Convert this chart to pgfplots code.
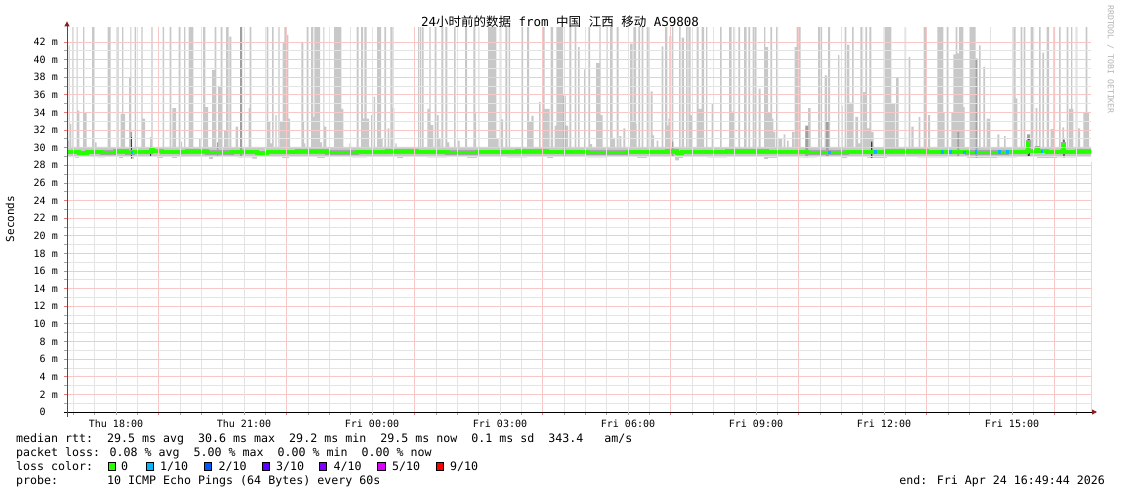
\documentclass[border=0pt]{standalone}
\usepackage{fontspec}
\setmainfont{DejaVu Sans Mono}[WordSpace={1,0,0}]
\newfontfamily\cjk{Noto Sans CJK SC}
\usepackage{pgfplots}
\pgfplotsset{compat=1.18}
\usetikzlibrary{arrows.meta}
\definecolor{smoke}{RGB}{200,200,200}
\definecolor{midsmoke}{RGB}{160,160,160}
\definecolor{darksmoke}{RGB}{60,60,60}
\definecolor{halo}{RGB}{165,165,165}
\definecolor{gridgray}{RGB}{228,228,228}
\definecolor{gridred}{RGB}{248,200,200}
\definecolor{tickred}{RGB}{240,120,120}
\definecolor{arrowred}{RGB}{140,30,30}
\definecolor{loss0}{HTML}{26FF00}
\definecolor{loss1}{HTML}{00B8FF}
\definecolor{loss2}{HTML}{0059FF}
\definecolor{loss3}{HTML}{5E00FF}
\definecolor{loss4}{HTML}{7E00FF}
\definecolor{loss5}{HTML}{DD00FF}
\definecolor{loss9}{HTML}{FF0000}
\newcommand\tickfont{\fontsize{10bp}{12bp}\selectfont}
\newcommand\legfont{\fontsize{11.63bp}{14bp}\selectfont}
\begin{document}
\begin{tikzpicture}
\path[use as bounding box] (0,0) rectangle (1121bp,-494bp);
\begin{axis}[
  at={(67bp,-412bp)}, anchor=south west,
  scale only axis, width=1024bp, height=384.6bp,
  xmin=0, xmax=1024, ymin=0, ymax=43.65,
  axis on top,
  axis lines=left,
  x axis line style={black, line width=0.9bp, -{Triangle[length=5bp,width=5bp,color=arrowred]}, shorten >=-6bp, shorten <=-3bp},
  y axis line style={black!70, line width=0.9bp, -{Triangle[length=5bp,width=5bp,color=arrowred]}, shorten >=-6bp, shorten <=-5bp},
  grid=both,
  grid style={color=gridgray, solid, line width=0.8bp},
  major grid style={color=gridred, solid, line width=0.8bp},
  minor grid style={color=gridgray, solid, line width=0.8bp},
  xtick={91.667,219.667,347.667,475.667,603.667,731.667,859.667,987.667},
  xticklabels={},
  minor xtick={6.333,27.667,70.333,113,134.333,155.667,198.333,241,262.333,283.667,326.333,369,390.333,411.667,454.333,497,518.333,539.667,582.333,625,646.333,667.667,710.333,753,774.333,795.667,838.333,881,902.333,923.667,966.333,1009},
  extra x ticks={49,177,305,433,561,689,817,945},
  extra x tick labels={Thu 18:00,Thu 21:00,Fri 00:00,Fri 03:00,Fri 06:00,Fri 09:00,Fri 12:00,Fri 15:00},
  extra x tick style={grid=major, major grid style={color=gridgray, solid, line width=0.8bp}, major tick style={color=black!35}},
  ytick={0,2,...,42},
  minor y tick num=1,
  yticklabels={{\phantom{0}0\ \phantom{m}},{\phantom{0}2 m},{\phantom{0}4 m},{\phantom{0}6 m},{\phantom{0}8 m},{10 m},{12 m},{14 m},{16 m},{18 m},{20 m},{22 m},{24 m},{26 m},{28 m},{30 m},{32 m},{34 m},{36 m},{38 m},{40 m},{42 m}},
  tick align=outside, major tick length=3bp, minor tick length=3bp,
  major tick style={color=tickred, line width=0.8bp},
  minor tick style={color=black!35, line width=0.8bp},
  xticklabel style={font=\tickfont, inner sep=0pt, anchor=north},
  xticklabel shift=5bp,
  yticklabel style={font=\tickfont, inner sep=0pt, anchor=east},
  yticklabel shift=6bp,
]
% light grey smoke (upper envelope of the pings)
\addplot[const plot, fill=smoke, draw=none] coordinates {
(0,30.1)
(0.3,30.8)(1.3,30.1)(1.7,41.6)(2.7,30.1)(3.0,32.7)(4.3,30.1)(5.3,45)(6.7,30.1)
(9.7,45)(10.7,34.2)(12.3,30.1)(16.0,45)(17.3,34.0)(19.7,30.1)(25.0,45)(27.7,30.6)(29.7,30.1)
(40.7,45)(43.7,30.1)(50.3,45)(51.7,30.1)(53.7,33.8)(55.0,45)(56.3,33.8)(58.0,30.1)
(62.0,38.0)(63.3,45)(64.3,30.1)(67.7,45)(69.0,30.1)(74.3,45)(75.7,33.3)(78.0,30.1)
(83.0,31.2)(84.3,45)(85.7,30.1)(95.7,45)(97.0,30.1)(102.7,45)(104.3,30.1)(105.3,34.5)(109.0,30.1)
(111.7,45)(113.0,30.7)(115.0,30.1)(117.0,45)(118.3,30.1)(121.7,45)(126.3,30.1)(132.0,31.0)(133.7,30.1)
(136.0,45)(138.3,34.6)(141.0,30.1)(145.0,38.8)(147.7,45)(149.3,30.1)(151.0,37.0)(153.7,45)(155.0,30.1)
(157.0,32.0)(159.0,45)(161.7,30.1)(162.3,42.6)(164.3,30.1)(168.7,32.4)(171.0,30.1)
(173.0,45)(175.0,30.1)(181.7,34.5)(182.7,45)(184.3,30.1)
(199.7,45)(201.3,33.0)(203.3,30.5)(205.0,45)(206.7,30.1)(208.3,33.7)(209.7,30.1)(211.3,45)(212.7,30.1)
(213.0,33.0)(215.7,42.0)(217.3,45)(219.7,42.8)(221.3,33.3)(223.0,30.1)
(234.3,42.0)(236.3,32.9)(237.0,30.5)(238.3,30.1)(239.7,45)(241.0,30.1)
(244.0,45)(246.3,33.5)(247.3,45)(253.0,30.6)(255.0,30.1)(256.3,45)(257.3,32.4)(259.3,30.1)
(267.0,45)(274.3,34.4)(276.3,30.1)(282.3,30.5)(284.0,30.1)(289.7,45)(291.7,30.1)
(294.0,45)(296.0,33.3)(297.3,45)(299.7,33.3)(302.0,30.1)(304.0,33.7)(305.7,30.1)(306.7,35.8)(308.0,30.1)
(310.0,45)(314.0,31.0)(315.7,30.1)(317.3,45)(319.0,30.1)(320.7,32.2)(322.3,30.1)
(323.3,45)(325.7,34.5)(327.3,30.1)(328.3,30.5)(329.7,30.1)
(351.0,45)(352.3,30.1)(353.0,45)(354.3,30.1)(355.0,45)(356.7,30.1)
(360.3,34.4)(362.3,45)(363.7,32.6)(366.3,30.1)(367.7,45)(369.7,33.7)(371.7,31.0)(373.7,30.1)
(374.3,45)(376.3,30.1)(378.3,45)(380.3,30.6)(382.3,30.1)(387.0,45)(388.7,30.1)(391.0,30.8)(392.7,30.1)
(398.0,45)(400.0,30.1)
(406.3,45)(408.3,33.9)(409.0,30.1)(411.0,45)(412.3,30.1)(421.0,45)(429.3,31.0)(431.7,30.1)
(432.7,45)(434.3,33.2)(436.0,30.1)(438.3,45)(440.3,30.1)(441.7,45)(443.0,30.1)(454.3,45)(456.0,30.1)
(460.0,45)(462.0,32.9)(464.3,33.6)(466.7,30.1)(472.0,35.2)(473.7,30.1)
(475.3,45)(477.7,34.4)(482.7,30.1)(483.7,45)(486.0,30.1)
(487.7,32.5)(489.3,45)(496.0,35.9)(498.3,32.5)(501.0,30.1)(502.3,45)(504.3,30.1)(507.7,45)(509.3,30.1)
(511.0,41.4)(512.7,30.1)
(517.0,38.9)(518.3,30.1)(521.3,45)(523.0,30.4)(525.0,30.1)
(529.0,39.6)(532.3,45)(533.7,33.7)(535.7,30.1)(539.0,45)(540.7,30.1)(543.0,45)(545.7,31.1)(548.0,30.1)
(549.7,45)(551.7,30.1)(552.3,31.3)(554.3,30.1)(556.3,32.2)(558.3,30.1)
(563.0,41.8)(565.7,32.9)(566.3,45)(569.0,32.7)(569.7,30.1)(571.3,45)(573.0,30.1)(574.7,45)(576.3,30.1)
(579.7,45)(581.7,30.1)(583.7,36.4)(585.7,31.4)(587.0,30.1)(589.7,30.8)(591.3,30.1)(594.7,41.5)(596.3,30.1)
(598.0,45)(600.3,32.5)(601.3,33.3)(602.3,42.7)(604.3,30.1)(605.0,45)(606.3,30.1)
(612.0,45)(613.7,30.1)(614.7,42.5)(617.0,30.1)(619.0,45)(620.7,30.1)(621.3,45)(623.7,33.7)(625.0,30.1)
(629.7,45)(631.7,34.4)(634.7,45)(637.0,30.1)(639.0,45)(640.3,30.1)(644.7,35.0)(646.3,30.1)
(653.0,45)(654.7,30.1)(662.0,45)(664.7,34.1)(666.3,45)(668.0,30.1)(671.3,45)(673.0,30.1)
(677.0,45)(679.7,30.1)(681.3,45)(683.0,30.1)(685.7,45)(687.0,30.1)
(687.7,45)(689.0,30.1)(691.7,36.7)(693.7,30.1)
(697.0,45)(698.3,41.4)(701.0,34.0)(703.3,45)(705.0,33.3)(706.3,31.8)(708.3,30.1)(709.0,45)(711.0,30.1)
(711.7,31.0)(715.0,30.1)(716.7,31.5)(718.3,30.1)(720.0,30.8)(721.7,30.1)(725.0,31.8)(727.0,30.1)
(727.7,41.4)(729.7,45)(733.7,30.1)(738.3,32.3)(741.0,34.5)(743.7,30.1)(751.0,45)(755.0,30.1)
(757.7,38.2)(760.0,32.3)(761.0,45)(763.0,30.1)(771.0,40.5)(772.3,30.1)(774.3,34.8)(775.7,30.1)
(777.7,45)(779.3,30.1)(780.0,41.7)(782.3,35.1)(785.0,45)(786.7,30.1)
(788.3,33.5)(791.0,30.5)(793.3,45)(796.0,36.3)(798.3,45)(800.0,32.2)(802.3,45)(804.3,31.8)(806.7,30.1)
(816.7,45)(824.3,35.0)(828.3,30.1)(829.0,37.9)(831.7,30.1)(837.7,45)(839.0,30.1)
(841.7,40.3)(843.3,30.1)(844.3,32.4)(846.7,30.1)(851.7,33.5)(853.3,30.1)(856.7,45)(859.0,30.1)
(861.0,33.7)(863.0,30.1)(870.3,45)(876.3,34.0)(877.7,30.1)(879.7,45)(881.0,30.1)
(884.3,34.0)(886.3,40.6)(888.7,45)(890.3,40.7)(892.0,45)(896.3,34.6)(897.7,30.1)
(902.0,45)(908.7,40.1)(910.3,30.1)(912.0,41.6)(913.7,30.1)(916.3,39.2)(918.0,30.1)(919.7,33.3)(923.0,30.1)
(930.3,31.5)(932.3,30.1)(937.0,31.3)(938.7,30.1)(946.3,45)(948.7,35.6)(950.3,30.1)
(953.7,45)(955.3,30.1)(956.7,45)(958.3,30.1)(963.7,45)(967.0,30.1)(968.7,34.5)(970.3,30.1)
(972.0,45)(973.7,30.1)(975.3,40.8)(977.0,30.1)(979.7,45)(982.0,30.1)(983.7,32.1)(986.3,45)(988.0,30.1)
(992.0,45)(993.7,30.1)(995.3,32.3)(997.0,30.1)(999.7,45)(1001.3,30.1)
(1002.0,34.4)(1004.0,45)(1005.3,34.4)(1006.3,30.1)(1008.7,45)(1010.3,30.1)(1011.0,32.2)(1013.0,30.1)
(1016.3,34.0)(1018.7,45)(1020.3,34.0)(1022.0,30.1)(1024,30.1)
} \closedcycle;
% medium grey smoke
\addplot[const plot, fill=midsmoke, draw=none] coordinates {
(0,28.4)(63.7,31.8)(65.0,28.4)(150.0,30.6)(151.0,28.4)(173.0,45)(175.0,28.4)
(496.7,35.9)(498.3,28.4)(605.0,30.7)(606.3,28.4)(738.3,32.5)(741.0,28.4)(759.0,33.0)(761.5,28.4)
(890.3,31.8)(892.0,28.4)(908.7,40.1)(910.3,28.4)(960.0,31.5)(963.0,28.4)(1024,28.4)
} \closedcycle;
% dark grey smoke
\addplot[const plot, fill=darksmoke, draw=none] coordinates {
(0,28.4)(64.0,31.2)(64.8,28.4)(83.0,30.1)(84.0,28.4)(804.0,30.7)(805.3,28.4)
(961.0,31.0)(962.5,28.4)(996.3,30.9)(997.7,28.4)(1024,28.4)
} \closedcycle;
% lower envelope of the pings
\addplot[const plot, fill=white, draw=none] coordinates {
(0,29.0)(8,28.85)(12,29.0)(30,28.9)(38,29.05)(52,28.8)(56,29.0)(64,28.75)(67,29.0)(90,28.85)(96,29.0)
(105,28.8)(110,29.0)(142,28.7)(146,29.0)(170,28.9)(185,28.75)(190,29.0)(215,28.8)(222,29.0)(250,28.85)
(258,29.0)(285,28.9)(300,29.0)(330,28.8)(336,29.0)(360,28.9)(380,29.0)(400,28.85)(410,29.0)(440,28.9)
(460,29.0)(480,28.8)(486,29.0)(520,28.9)(540,29.0)(570,28.85)(580,29.0)(608,28.55)(612,28.8)(616,29.0)
(640,28.9)(660,29.0)(697,28.7)(701,28.85)(710,29.0)(730,28.9)(750,29.0)(775,28.8)(780,29.0)(800,28.85)
(820,29.0)(850,28.9)(880,29.0)(900,28.85)(930,28.9)(950,29.0)(970,28.8)(990,28.9)(1010,29.0)(1024,29.0)
} \closedcycle;
% median rtt
\addplot[const plot, draw=halo, line width=4.3bp] coordinates {
(0,29.5)(12,29.4)(20,29.5)(35,29.45)(48,29.55)(60,29.45)(66,29.5)(84,29.8)(86,29.6)(95,29.5)(120,29.55)
(140,29.45)(165,29.5)(190,29.4)(200,29.5)(230,29.55)(260,29.45)(290,29.5)(320,29.55)(350,29.5)
(380,29.45)(410,29.5)(450,29.55)(480,29.5)(520,29.45)(560,29.5)(600,29.55)(610,29.4)(615,29.5)
(660,29.55)(700,29.5)(740,29.45)(780,29.5)(820,29.55)(860,29.5)(900,29.45)(940,29.5)(960,29.6)
(961,30.6)(961.8,29.6)(970,29.9)(971.3,29.6)(980,29.5)(995,29.6)(996.5,30.4)(997.3,29.5)(1010,29.55)(1024,29.5)
};
\addplot[const plot, draw=loss0, line width=3.2bp] coordinates {
(0,29.5)(12,29.4)(20,29.5)(35,29.45)(48,29.55)(60,29.45)(66,29.5)(84,29.8)(86,29.6)(95,29.5)(120,29.55)
(140,29.45)(165,29.5)(190,29.4)(200,29.5)(230,29.55)(260,29.45)(290,29.5)(320,29.55)(350,29.5)
(380,29.45)(410,29.5)(450,29.55)(480,29.5)(520,29.45)(560,29.5)(600,29.55)(610,29.4)(615,29.5)
(660,29.55)(700,29.5)(740,29.45)(780,29.5)(820,29.55)(860,29.5)(900,29.45)(940,29.5)(960,29.6)
(961,30.6)(961.8,29.6)(970,29.9)(971.3,29.6)(980,29.5)(995,29.6)(996.5,30.4)(997.3,29.5)(1010,29.55)(1024,29.5)
};
% median with 1/10 loss
\addplot[draw=loss1, line width=3.2bp, unbounded coords=jump] coordinates {
(63.7,29.45)(65.7,29.45)(65.8,nan)(761.0,29.45)(764.0,29.45)(764.1,nan)(806.5,29.5)(809.5,29.5)(809.6,nan)
(874.0,29.5)(877.0,29.5)(877.1,nan)(882.0,29.5)(884.5,29.5)(884.6,nan)(896.0,29.45)(899.0,29.45)(899.1,nan)
(907.5,29.5)(910.0,29.5)(910.1,nan)(931.0,29.5)(934.0,29.5)(934.1,nan)(939.0,29.5)(941.5,29.5)(941.6,nan)
(973.5,29.6)(976.0,29.6)
};
\end{axis}
% title
\node[anchor=base, inner sep=0pt] at (560bp,-26bp) {\fontsize{12.5bp}{15bp}\selectfont 24{\cjk 小时前的数据} from {\cjk 中国} {\cjk 江西} {\cjk 移动} AS9808};
% y label
\node[rotate=90, inner sep=0pt] at (10bp,-219bp) {\fontsize{11bp}{13bp}\selectfont Seconds};
% credit
\node[rotate=-90, anchor=west, inner sep=0pt, text=black!30] at (1110.5bp,-5bp) {\fontsize{8.2bp}{10bp}\selectfont RRDTOOL / TOBI OETIKER};
% legend block
\node[anchor=base west, inner sep=0pt] at (16bp,-442.7bp) {\legfont median rtt:\ \ 29.5 ms avg\ \ 30.6 ms max\ \ 29.2 ms min\ \ 29.5 ms now\ \ 0.1 ms sd\ \ 343.4\ \ \ am/s};
\node[anchor=base west, inner sep=0pt] at (16bp,-456.7bp) {\legfont packet loss: 0.08 \% avg\ \ 5.00 \% max\ \ 0.00 \% min\ \ 0.00 \% now};
\node[anchor=base west, inner sep=0pt] at (16bp,-470.7bp) {\legfont loss color:};
\filldraw[fill=loss0, draw=black, line width=0.8bp] (108bp,-462.5bp) rectangle ++(7.5bp,-8bp);
\node[anchor=base west, inner sep=0pt] at (121bp,-470.7bp) {\legfont 0};
\filldraw[fill=loss1, draw=black, line width=0.8bp] (146bp,-462.5bp) rectangle ++(7.5bp,-8bp);
\node[anchor=base west, inner sep=0pt] at (160bp,-470.7bp) {\legfont 1/10};
\filldraw[fill=loss2, draw=black, line width=0.8bp] (204bp,-462.5bp) rectangle ++(7.5bp,-8bp);
\node[anchor=base west, inner sep=0pt] at (218.5bp,-470.7bp) {\legfont 2/10};
\filldraw[fill=loss3, draw=black, line width=0.8bp] (262bp,-462.5bp) rectangle ++(7.5bp,-8bp);
\node[anchor=base west, inner sep=0pt] at (276bp,-470.7bp) {\legfont 3/10};
\filldraw[fill=loss4, draw=black, line width=0.8bp] (319bp,-462.5bp) rectangle ++(7.5bp,-8bp);
\node[anchor=base west, inner sep=0pt] at (333.5bp,-470.7bp) {\legfont 4/10};
\filldraw[fill=loss5, draw=black, line width=0.8bp] (377.5bp,-462.5bp) rectangle ++(7.5bp,-8bp);
\node[anchor=base west, inner sep=0pt] at (392bp,-470.7bp) {\legfont 5/10};
\filldraw[fill=loss9, draw=black, line width=0.8bp] (436bp,-462.5bp) rectangle ++(7.5bp,-8bp);
\node[anchor=base west, inner sep=0pt] at (450bp,-470.7bp) {\legfont 9/10};
\node[anchor=base west, inner sep=0pt] at (16bp,-484.3bp) {\legfont probe:\ \ \ \ \ \ \ 10 ICMP Echo Pings (64 Bytes) every 60s};
\node[anchor=base east, inner sep=0pt] at (1105bp,-484.3bp) {\legfont end: Fri Apr 24 16:49:44 2026};
\end{tikzpicture}
\end{document}
